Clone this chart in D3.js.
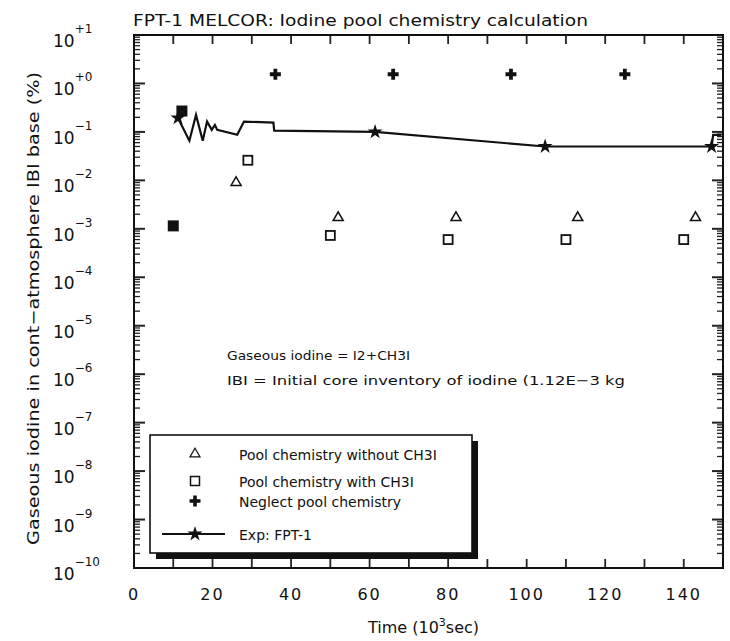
<!DOCTYPE html>
<html>
<head>
  <meta charset="utf-8">
  <title>FPT-1 MELCOR</title>
  <script src="https://d3js.org/d3.v7.min.js"></script>
  <style>
    body { margin: 0; background: #fff; }
    text { font-family: "DejaVu Sans", sans-serif; fill: #111; }
  </style>
</head>
<body>
  <div id="chart"></div>
  <script>
    "use strict"

    // valores
    const decadas = d3.range(-10, 2);
    const xTicks = d3.range(0, 151, 10);
    const xLabels = [0, 20, 40, 60, 80, 100, 120, 140];

    const semCH3I_x = [26, 52, 82, 113, 143];
    const semCH3I_y = [9e-3, 1.7e-3, 1.7e-3, 1.7e-3, 1.7e-3];

    const comCH3I_x = [29, 50, 80, 110, 140];
    const comCH3I_y = [2.6e-2, 7.3e-4, 6e-4, 6e-4, 6e-4];

    const inicio_x = [10, 12.2];
    const inicio_y = [1.15e-3, 0.27];

    const semPool_x = [36, 66, 96, 125];
    const semPool_y = [1.55, 1.55, 1.55, 1.55];

    const exp_x = [11.2, 14.1, 15.8, 17.5, 18.6, 19.8, 20.6, 21.2, 26.3, 28.0, 35.5, 35.7, 61.4, 104.7, 147.1, 147.5, 149.6];
    const exp_y = [0.194, 0.066, 0.224, 0.066, 0.163, 0.110, 0.139, 0.110, 0.087, 0.163, 0.156, 0.106, 0.100, 0.050, 0.050, 0.087, 0.087];
    const estrela_x = [11.2, 61.4, 104.7, 147.1];
    const estrela_y = [0.194, 0.100, 0.050, 0.050];

    const legenda = ["Pool chemistry without CH3I", "Pool chemistry with CH3I", "Neglect pool chemistry", "Exp: FPT-1"];

    const larguraSVG = 730, alturaSVG = 641;
    const margin = {top: 35, right: 7, bottom: 73, left: 134};
    const larguraVis = larguraSVG - margin.left - margin.right,
          alturaVis = alturaSVG - margin.top - margin.bottom;

    const svg = d3.select('#chart').append('svg')
      .attr('width', larguraSVG).attr('height', alturaSVG);
    const g = svg.append('g')
      .attr('transform', 'translate(' + margin.left + ',' + margin.top + ')');

    const x = d3.scaleLinear().domain([0, 150]).range([0, larguraVis]);
    const y = d3.scaleLog().domain([1e-10, 10]).range([alturaVis, 0]);

    // ticks do eixo y (maiores e menores), esquerda e direita
    const ticksY = [];
    decadas.forEach(d => {
      ticksY.push({v: Math.pow(10, d), maior: true});
      if (d < 1) for (let k = 2; k <= 9; k++) ticksY.push({v: k * Math.pow(10, d), maior: false});
    });
    g.selectAll('.tyl').data(ticksY).enter().append('line')
      .attr('x1', 0).attr('x2', d => d.maior ? 11 : 6)
      .attr('y1', d => y(d.v)).attr('y2', d => y(d.v))
      .attr('stroke', '#222').attr('stroke-width', d => d.maior ? 2 : 1.3);
    g.selectAll('.tyr').data(ticksY).enter().append('line')
      .attr('x1', larguraVis).attr('x2', d => larguraVis - (d.maior ? 11 : 6))
      .attr('y1', d => y(d.v)).attr('y2', d => y(d.v))
      .attr('stroke', '#222').attr('stroke-width', d => d.maior ? 2 : 1.3);

    // ticks do eixo x, em cima e embaixo
    g.selectAll('.txb').data(xTicks).enter().append('line')
      .attr('x1', d => x(d)).attr('x2', d => x(d))
      .attr('y1', alturaVis).attr('y2', alturaVis - 9)
      .attr('stroke', '#222').attr('stroke-width', 1.8);
    g.selectAll('.txt').data(xTicks).enter().append('line')
      .attr('x1', d => x(d)).attr('x2', d => x(d))
      .attr('y1', 0).attr('y2', 9)
      .attr('stroke', '#222').attr('stroke-width', 1.8);

    // moldura
    g.append('rect').attr('width', larguraVis).attr('height', alturaVis)
      .attr('fill', 'none').attr('stroke', '#111').attr('stroke-width', 2);

    // rotulos
    const rotY = g.selectAll('.ly').data(decadas).enter().append('text')
      .attr('x', -81).attr('y', d => y(Math.pow(10, d)) + 12)
      .style('font-size', '17px');
    rotY.append('tspan').text('10');
    rotY.append('tspan').attr('dy', -14).style('font-size', '12px')
      .text(d => d >= 0 ? '+' + d : '\u2212' + (-d));

    g.selectAll('.lx').data(xLabels).enter().append('text')
      .attr('x', d => x(d)).attr('y', alturaVis + 32)
      .attr('text-anchor', 'middle').style('font-size', '16px')
      .style('letter-spacing', '2px')
      .text(d => d);

    svg.append('text').attr('x', 133).attr('y', 26)
      .style('font-size', '15px')
      .attr('textLength', 455).attr('lengthAdjust', 'spacingAndGlyphs')
      .text('FPT-1 MELCOR: Iodine pool chemistry calculation');

    const rotX = svg.append('text').attr('x', 368).attr('y', 633)
      .style('font-size', '16px');
    rotX.append('tspan').text('Time  (10');
    rotX.append('tspan').attr('dy', -7).style('font-size', '11px').text('3');
    rotX.append('tspan').attr('dy', 7).text('sec)');

    svg.append('text')
      .attr('transform', 'translate(39,545) rotate(-90)')
      .style('font-size', '16px')
      .attr('textLength', 473).attr('lengthAdjust', 'spacingAndGlyphs')
      .text('Gaseous iodine in cont\u2212atmosphere IBI base (%)');

    svg.append('text').attr('x', 227).attr('y', 360).style('font-size', '13px')
      .attr('textLength', 183).attr('lengthAdjust', 'spacingAndGlyphs')
      .text('Gaseous iodine = I2+CH3I');
    svg.append('text').attr('x', 227).attr('y', 385).style('font-size', '13px')
      .attr('textLength', 398).attr('lengthAdjust', 'spacingAndGlyphs')
      .text('IBI = Initial core inventory of iodine (1.12E\u22123 kg');

    // marcas
    const tri = d3.symbol().type(d3.symbolTriangle).size(44);
    const plusPath = 'M-5.5,0H5.5M0,-5.5V5.5';

    const linha = d3.line().x(d => x(d[0])).y(d => y(d[1]));
    g.append('path').datum(d3.zip(exp_x, exp_y))
      .attr('d', linha).attr('fill', 'none')
      .attr('stroke', '#111').attr('stroke-width', 2.2);
    g.selectAll('.est').data(d3.zip(estrela_x, estrela_y)).enter().append('path')
      .attr('transform', d => 'translate(' + x(d[0]) + ',' + y(d[1]) + ')')
      .attr('d', d3.symbol().type(d3.symbolStar).size(70)).attr('fill', '#111');

    g.selectAll('.tri').data(d3.zip(semCH3I_x, semCH3I_y)).enter().append('path')
      .attr('transform', d => 'translate(' + x(d[0]) + ',' + y(d[1]) + ')')
      .attr('d', tri).attr('fill', 'none').attr('stroke', '#111').attr('stroke-width', 1.5);

    g.selectAll('.sq').data(d3.zip(comCH3I_x, comCH3I_y)).enter().append('rect')
      .attr('x', d => x(d[0]) - 4.5).attr('y', d => y(d[1]) - 4.5)
      .attr('width', 9).attr('height', 9)
      .attr('fill', 'none').attr('stroke', '#111').attr('stroke-width', 1.8);

    g.selectAll('.sqf').data(d3.zip(inicio_x, inicio_y)).enter().append('rect')
      .attr('x', d => x(d[0]) - 5.5).attr('y', d => y(d[1]) - 5.5)
      .attr('width', 11).attr('height', 11).attr('fill', '#111');

    g.selectAll('.plus').data(d3.zip(semPool_x, semPool_y)).enter().append('path')
      .attr('transform', d => 'translate(' + x(d[0]) + ',' + y(d[1]) + ')')
      .attr('d', plusPath).attr('stroke', '#111').attr('stroke-width', 3.8);

    // legenda
    const leg = svg.append('g');
    leg.append('rect').attr('x', 156).attr('y', 441).attr('width', 322).attr('height', 118).attr('fill', '#111');
    leg.append('rect').attr('x', 150).attr('y', 435).attr('width', 322).attr('height', 118)
      .attr('fill', '#fff').attr('stroke', '#111').attr('stroke-width', 1.6);
    const legY = [454, 481, 501, 534];
    leg.selectAll('text').data(legenda).enter().append('text')
      .attr('x', 239).attr('y', (d, i) => legY[i] + 6)
      .style('font-size', '14px')
      .text(d => d);
    leg.append('path').attr('transform', 'translate(195,' + legY[0] + ')')
      .attr('d', tri).attr('fill', 'none').attr('stroke', '#111').attr('stroke-width', 1.2);
    leg.append('rect').attr('x', 190.5).attr('y', legY[1] - 4.5).attr('width', 9).attr('height', 9)
      .attr('fill', 'none').attr('stroke', '#111').attr('stroke-width', 1.5);
    leg.append('path').attr('transform', 'translate(195,' + legY[2] + ')')
      .attr('d', plusPath).attr('stroke', '#111').attr('stroke-width', 3.6);
    leg.append('line').attr('x1', 162).attr('x2', 225).attr('y1', legY[3]).attr('y2', legY[3])
      .attr('stroke', '#111').attr('stroke-width', 2);
    leg.append('path').attr('transform', 'translate(195,' + legY[3] + ')')
      .attr('d', d3.symbol().type(d3.symbolStar).size(70)).attr('fill', '#111');
  </script>
</body>
</html>
